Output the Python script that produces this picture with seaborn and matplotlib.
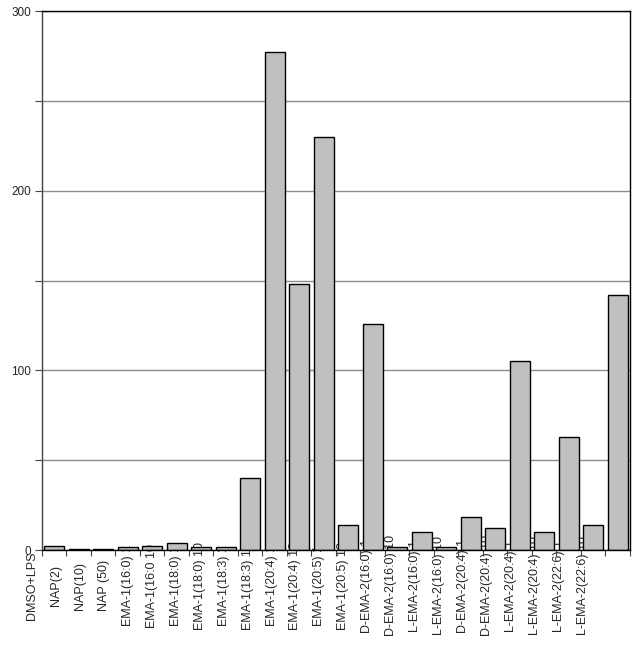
import numpy as np
import pandas as pd
import matplotlib
matplotlib.use("Agg")
import matplotlib.pyplot as plt
import seaborn as sns

# values
labels = ["DMSO+LPS", "NAP(2)", "NAP(10)", "NAP (50)",
          "EMA-1(16:0) 1", "EMA-1(16:0 10", "EMA-1(18:0) 1", "EMA-1(18:0) 10",
          "EMA-1(18:3) 1", "EMA-1(18:3) 10", "EMA-1(20:4) 1", "EMA-1(20:4) 10",
          "EMA-1(20:5) 1", "EMA-1(20:5) 10", "D-EMA-2(16:0) 1", "D-EMA-2(16:0) 10",
          "L-EMA-2(16:0) 1", "L-EMA-2(16:0) 10", "D-EMA-2(20:4) 1", "D-EMA-2(20:4) 10",
          "L-EMA-2(20:4) 1", "L-EMA-2(20:4) 10", "L-EMA-2(22:6) 1", "L-EMA-2(22:6) 10"]
values = [2, 0.5, 0.5, 1.5, 2.5, 4, 1.5, 1.5,
          40, 277, 148, 230, 14, 126, 1.5, 10,
          1.5, 18.5, 12.5, 105, 10, 63, 14, 142]

yticks = [0, 50, 100, 150, 200, 250, 300]
ylabels = ["0", "", "100", "", "200", "", "300"]

df = pd.DataFrame({"group": labels, "value": values})

sns.set_style("white")
plt.rcParams["font.family"] = ["Liberation Sans", "DejaVu Sans"]

fig = plt.figure(figsize=(6.44, 6.54), dpi=100)
ax = fig.add_axes([0.0652, 0.159, 0.9128, 0.824])

sns.barplot(data=df, x="group", y="value", color="#c0c0c0", saturation=1,
            edgecolor="black", linewidth=1, width=0.82, ax=ax)

ax.set_xlim(-0.5, len(labels) - 0.5)
ax.set_ylim(0, 300)
ax.set_yticks(yticks)
ax.set_yticklabels(ylabels, fontsize=8.5)
ax.yaxis.grid(True, color="#8c8c8c", linewidth=1)
ax.set_axisbelow(True)
ax.tick_params(axis="y", direction="out", length=5, width=0.8, color="#444444", pad=3, left=True)

# category boundary ticks, labels drawn separately (shifted like the original)
ax.set_xticks(np.arange(len(labels) + 1) - 0.5)
ax.set_xticklabels([])
ax.tick_params(axis="x", direction="out", length=4, width=0.8, color="#444444", bottom=True)
trans = ax.get_xaxis_transform()
for i, lab in enumerate(labels):
    xpos = -0.908 + 0.978 * i
    ax.text(xpos, -0.066, lab, rotation=90, ha="center", va="center",
            fontsize=9, transform=trans, zorder=0.5, clip_on=False)

for s in ["left", "bottom", "top", "right"]:
    ax.spines[s].set_visible(True)
    ax.spines[s].set_color("black")
    ax.spines[s].set_linewidth(1)
ax.spines["left"].set_color("#444444")

ax.set_xlabel("")
ax.set_ylabel("")

fig.savefig("out.png", dpi=100)
